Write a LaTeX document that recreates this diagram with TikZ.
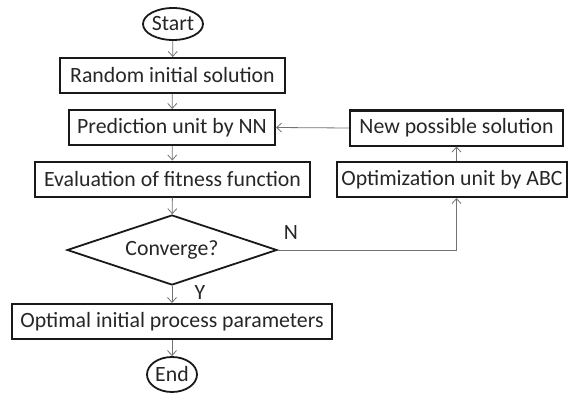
\documentclass[tikz,border=0pt]{standalone}
\usepackage{fontspec}
\setmainfont{Carlito}
\usepackage{tikz}
\usetikzlibrary{shapes.geometric}
\usetikzlibrary{arrows.meta}

\begin{document}
\begin{tikzpicture}[x=1pt, y=-1pt,
 every node/.style={font=\fontsize{21.8}{26}\selectfont, text=black!85},
block/.style={rectangle, inner sep=0pt, minimum height=35pt, line width=2pt, draw=black!90},
term/.style={ellipse, inner sep=0pt, line width=1.8pt, draw=black!90},
decide/.style={diamond, aspect=3, inner sep=0pt, minimum width=210pt, minimum height=70pt, line width=1.8pt, draw=black!90},
str/.style={rectangle, inner sep=0pt},
arrow/.style={-{Straight Barb[length=5pt, width=9pt]}, line width=0.8pt, black!55}]

\useasboundingbox (0, 0) rectangle (572, 393);

\node[term, minimum width=60pt, minimum height=32pt] (start) at (173, 24) {Start};
\node[block, minimum width=225pt] (random) at (172.5, 75.5) {Random initial solution};
\node[block, minimum width=206pt] (predict) at (172, 127.5) {Prediction unit by NN};
\node[block, minimum width=275pt] (fitness) at (172.5, 179) {Evaluation of fitness function};
\node[decide] (conv) at (172, 250) {Converge?};
\node[block, minimum width=320pt] (optimal) at (172, 321.5) {Optimal initial process parameters};
\node[term, minimum width=50pt, minimum height=35pt] (end) at (172, 374.5) {End};

\node[block, minimum width=213pt] (newsol) at (456.5, 128) {New possible solution};
\node[block, minimum width=230pt] (abc) at (452, 179.5) {Optimization unit by ABC};

\node[str] (n) at (291, 233) {N};
\node[str] (y) at (200, 293) {Y};

\draw (start) edge[arrow] (random);
\draw (random) edge[arrow] (predict);
\draw (predict) edge[arrow] (fitness);
\draw (fitness) edge[arrow] (conv);
\draw (conv) edge[arrow] (optimal);
\draw (optimal) edge[arrow] (end);

\draw[arrow] (conv.east) -| (abc.south -| newsol.south);
\draw (abc.north -| newsol.south) edge[arrow] (newsol.south);
\draw (newsol.west) edge[arrow] (predict.east);

\end{tikzpicture}
\end{document}
